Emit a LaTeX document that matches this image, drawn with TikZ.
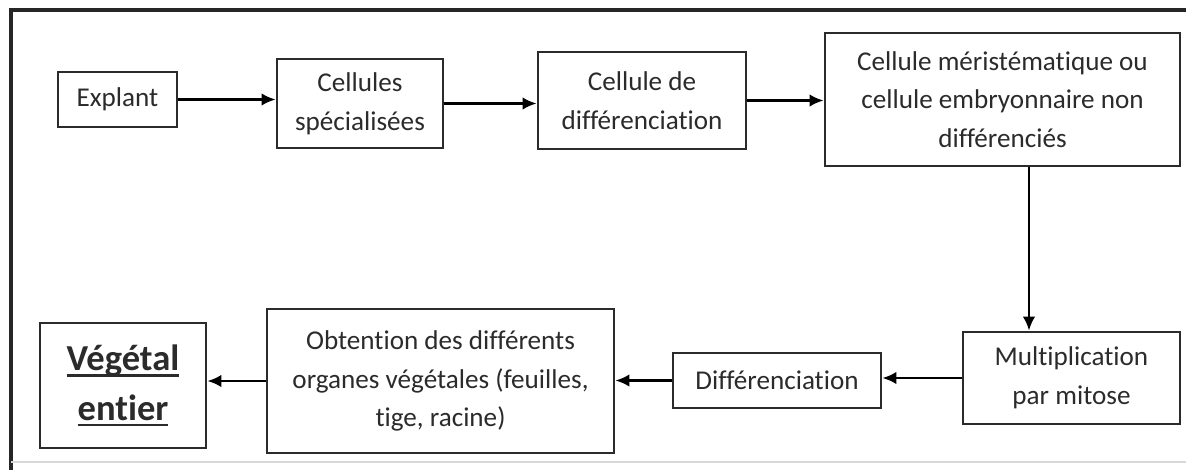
\documentclass[tikz,border=0pt]{standalone}
\usepackage{fontspec}
\setmainfont{Carlito}[Ligatures=NoCommon]
\usetikzlibrary{arrows.meta}

\newcommand{\fatunder}[1]{\setbox0\hbox{#1}\rlap{\rule[-4.5pt]{\wd0}{1.8pt}}\box0}

\definecolor{ink}{HTML}{2B2B2B}
\definecolor{rim}{HTML}{D8D8D8}

\begin{document}
\begin{tikzpicture}[x=0.025cm, y=-0.025cm,
    box/.style={draw=ink, line width=2pt, text=ink, align=center, inner sep=0pt,
      font=\fontsize{19.3}{27.5}\selectfont},
    flow/.style={draw=black, line width=1.8pt, -{Latex[length=10pt, width=9pt]}}]
      \useasboundingbox (0, 0) rectangle (1186, 470);
      \fill[white] (0, 0) rectangle (1186, 470);

      \draw[black!85, line width=2.6pt] (11, 470) -- (11, 10) -- (1186, 10);
      \draw[rim, line width=1.2pt] (11, 462) -- (1186, 462);

      \node[box, minimum width=119*0.025cm, minimum height=55*0.025cm] (explant) at (117.5, 99.5) {Explant};
      \node[box, minimum width=166*0.025cm, minimum height=89*0.025cm] (special) at (360, 103.5) {Cellules\\spécialisées};
      \node[box, minimum width=208*0.025cm, minimum height=97*0.025cm] (celldiff) at (642, 100.5) {Cellule de\\différenciation};
      \node[box, minimum width=355*0.025cm, minimum height=133*0.025cm] (merist) at (1002.5, 99.5) {Cellule méristématique ou\\cellule embryonnaire non\\différenciés};

      \node[box, minimum width=217*0.025cm, minimum height=92*0.025cm] (mitose) at (1071.5, 378) {Multiplication\\par mitose};
      \node[box, minimum width=208*0.025cm, minimum height=55*0.025cm] (differ) at (777, 380.5) {Différenciation};
      \node[box, minimum width=347*0.025cm, minimum height=144*0.025cm] (organes) at (440.5, 381) {Obtention des différents\\organes végétales (feuilles,\\tige, racine)};
      \node[box, minimum width=166*0.025cm, minimum height=125*0.025cm,
        font=\fontsize{26}{35.5}\selectfont\bfseries] (vegetal) at (123, 385.5) {\fatunder{Végétal}\\\fatunder{entier}};

      \coordinate (drop) at (1029, 166);

      \draw[flow] (explant.east) -- (explant.east -| special.west);
      \draw[flow] (special.east) -- (special.east -| celldiff.west);
      \draw[flow] (celldiff.east) -- (celldiff.east -| merist.west);
      \draw[flow] (merist.south -| drop) -- (mitose.north -| drop);
      \draw[flow] (mitose.west) -- (mitose.west -| differ.east);
      \draw[flow] (differ.west) -- (differ.west -| organes.east);
      \draw[flow] (organes.west) -- (organes.west -| vegetal.east);
    \end{tikzpicture}
\end{document}
